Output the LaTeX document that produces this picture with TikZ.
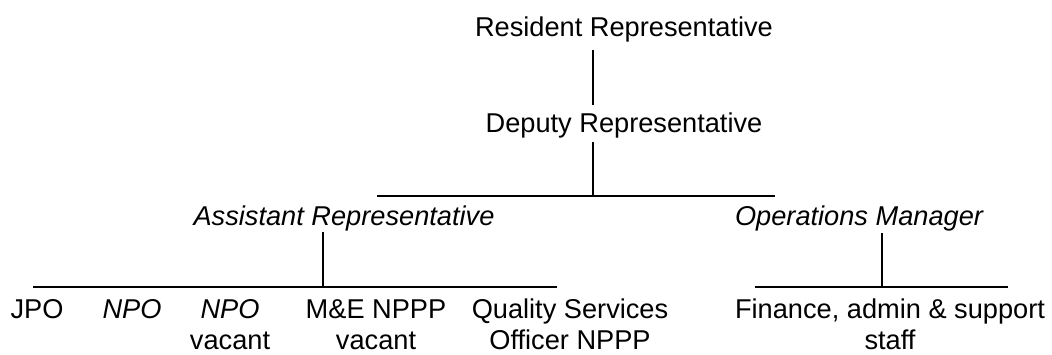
\documentclass[tikz,border=0pt]{standalone}
\usepackage{fontspec}
\setmainfont{Liberation Sans}
\tikzset{
  post/.style={font=\fontsize{13.6}{15.5}\selectfont, anchor=base, inner sep=0pt, align=center},
  postit/.style={post, font=\fontsize{13.6}{15.5}\selectfont\itshape},
  orgline/.style={line width=0.8pt},
}
\begin{document}
\begin{tikzpicture}[x=0.5pt,y=-0.5pt]
  \useasboundingbox (0,0) rectangle (1052,354);

  % top of the office
  \node[post] (res) at (624,36) {Resident Representative};
  \node[post] (dep) at (624,132) {Deputy Representative};
  \node[postit] (asst) at (344,225) {Assistant Representative};
  \node[postit] (ops) at (859,225) {Operations Manager};

  % staff row (two-line posts sit on their last line)
  \node[post] (jpo) at (37,318) {JPO};
  \node[postit] (npoa) at (132,318) {NPO};
  \node[post] (npob) at (230,349) {\textit{NPO}\\vacant};
  \node[post] (mne) at (376,349) {M\&E NPPP\\vacant};
  \node[post] (qso) at (570,349) {Quality Services\\Officer NPPP};
  \node[post] (fin) at (890,349) {Finance, admin \& support\\staff};

  \coordinate (res-foot) at (593,50);
  \coordinate (dep-head) at (593,105);
  \coordinate (dep-foot) at (593,142);
  \coordinate (top-l) at (377,196);
  \coordinate (top-j) at (593,196);
  \coordinate (top-r) at (775,196);
  \coordinate (asst-foot) at (323,232);
  \coordinate (asst-l) at (33,287);
  \coordinate (asst-j) at (323,287);
  \coordinate (asst-r) at (557,287);
  \coordinate (ops-foot) at (882,233);
  \coordinate (ops-l) at (755,287);
  \coordinate (ops-j) at (882,287);
  \coordinate (ops-r) at (1008,287);

  \draw[orgline] (res-foot) -- (dep-head);
  \draw[orgline] (dep-foot) -- (top-j);
  \draw[orgline] (top-l) -- (top-r);
  \draw[orgline] (asst-foot) -- (asst-j);
  \draw[orgline] (asst-l) -- (asst-r);
  \draw[orgline] (ops-foot) -- (ops-j);
  \draw[orgline] (ops-l) -- (ops-r);
\end{tikzpicture}
\end{document}
